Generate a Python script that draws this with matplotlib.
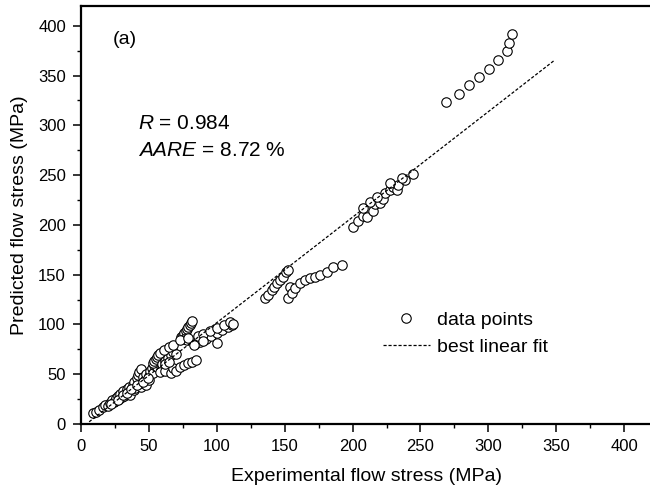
import matplotlib
matplotlib.use("Agg")
import matplotlib.pyplot as plt
from matplotlib.ticker import MultipleLocator

plt.rcParams['font.family'] = ['Liberation Sans', 'DejaVu Sans']
plt.rcParams['mathtext.fontset'] = 'custom'
plt.rcParams['mathtext.rm'] = 'Liberation Sans'
plt.rcParams['mathtext.it'] = 'Liberation Sans:italic'

# Dados (tensão experimental x prevista, MPa)
# ramo de baixa tensão (denso)
low_exp = [9, 11, 13, 16, 18, 20, 21, 23, 24, 25, 26, 27, 28, 29, 30, 31, 32, 33,
           34, 35, 36, 36, 38, 39, 39, 40, 41, 42, 43, 44, 44, 45, 46, 47, 48, 48,
           50, 50, 51, 52, 53, 54, 55, 56, 57, 58, 59, 60, 62, 63, 64, 66,
           22, 27, 31, 34, 37, 41, 46, 49]
low_pred = [11, 12, 14, 17, 19, 18, 21, 24, 22, 23, 26, 28, 25, 30, 27, 33, 28, 31,
            35, 37, 33, 29, 39, 42, 34, 36, 46, 49, 52, 55, 37, 41, 47, 44, 50, 39,
            48, 44, 53, 56, 51, 59, 62, 57, 64, 60, 66, 63, 68, 72, 65, 75,
            20, 24, 29, 31, 35, 39, 42, 46]

# colunas empilhadas por volta de 55-85 MPa
mid_exp = [53, 54, 55, 56, 57, 58, 60, 62, 64, 66, 68, 70,
           74, 75, 76, 77, 78, 79, 80, 81, 82, 76, 78]
mid_pred = [61, 63, 65, 67, 69, 71, 60, 63, 66, 69, 72, 70,
            87, 89, 91, 93, 95, 97, 99, 101, 103, 85, 84]

# ramo superior 60-112 MPa
upper_exp = [61, 65, 68, 73, 79, 84, 88, 92, 96, 100, 104, 108, 111,
             86, 90, 95, 100, 105, 110, 112, 83, 90, 100]
upper_pred = [74, 77, 79, 84, 86, 80, 82, 85, 88, 91, 94, 97, 99,
              88, 90, 93, 96, 99, 102, 100, 79, 83, 81]

# ramo inferior 58-85 MPa
hook_exp = [58, 62, 66, 68, 70, 73, 76, 79, 82, 85, 62, 65]
hook_pred = [52, 53, 51, 56, 53, 57, 59, 61, 62, 64, 60, 62]

# grupo ~150 MPa
g150a_exp = [135.5, 137.9, 140.4, 142.1, 144.1, 146.5, 149.0, 151.0, 152.7, 153.9]
g150a_pred = [126.2, 129.5, 134.5, 137.9, 141.3, 144.6, 147.9, 152.9, 154.6, 137.9]
g150b_exp = [152.7, 155.1, 157.6, 161.3, 164.9, 168.6, 172.3, 176.0, 180.9, 185.8, 192.0]
g150b_pred = [126.2, 131.2, 136.2, 141.3, 144.6, 146.3, 147.9, 149.6, 152.9, 157.9, 159.6]

# grupo ~220 MPa
g220_exp = [200.5, 204.2, 207.9, 210.8, 215.3, 216.5, 220.2, 222.6, 223.9, 227.5,
            230.0, 232.4, 233.7, 238.6, 244.7, 207.9, 212.8, 217.7, 227.5, 236.2]
g220_pred = [198.1, 204.1, 208.8, 207.5, 214.2, 220.9, 221.6, 225.6, 232.2, 234.9,
             238.3, 234.9, 240.0, 245.0, 250.7, 216.6, 223.2, 228.2, 241.7, 246.7]

# grupo ~300 MPa
g300_exp = [268.6, 278.4, 286.0, 293.4, 300.7, 306.9, 313.5, 315.4, 317.6]
g300_pred = [323.6, 332.0, 340.4, 348.7, 357.1, 366.1, 374.8, 383.2, 391.9]

# ajuste linear
fit_slope = 1.06
fit_intercept = -4.2
fit_range = [6, 348]

grupos = [(low_exp, low_pred), (mid_exp, mid_pred), (hook_exp, hook_pred),
          (upper_exp, upper_pred), (g150a_exp, g150a_pred), (g150b_exp, g150b_pred),
          (g220_exp, g220_pred), (g300_exp, g300_pred)]

fig = plt.figure(figsize=(6.5, 4.93), dpi=100)
ax = fig.add_axes([0.1246, 0.14, 0.8775, 0.848])

for i, (gx, gy) in enumerate(grupos):
    ax.plot(gx, gy, 'o', ms=6.8, mfc='white', mec='black', mew=0.8,
            label='data points' if i == 0 else None, zorder=3)

fit_y = [fit_slope * v + fit_intercept for v in fit_range]
ax.plot(fit_range, fit_y, color='black', lw=0.9, ls=(0, (2.5, 1.5)),
        label='best linear fit', zorder=4)

ax.set_xlim(0, 420)
ax.set_ylim(0, 420)
ax.xaxis.set_major_locator(MultipleLocator(50))
ax.xaxis.set_minor_locator(MultipleLocator(25))
ax.yaxis.set_major_locator(MultipleLocator(50))
ax.yaxis.set_minor_locator(MultipleLocator(25))
ax.tick_params(which='major', direction='out', length=5.8, width=1.1,
               labelsize=12, pad=5, top=False, right=False)
ax.tick_params(which='minor', direction='out', length=3, width=1.0,
               top=False, right=False)
for s in ax.spines.values():
    s.set_linewidth(1.6)

ax.set_xlabel('Experimental flow stress (MPa)', fontsize=14, labelpad=10)
ax.set_ylabel('Predicted flow stress (MPa)', fontsize=14, labelpad=7)

# anotações
fig.text(113 / 650, 1 - 40 / 493, '(a)', fontsize=14, va='center')
fig.text(138 / 650, 1 - 124 / 493, r'$R$ = 0.984', fontsize=15, va='center')
fig.text(138 / 650, 1 - 151 / 493, r'$AARE$ = 8.72 %', fontsize=15, va='center')

ax.legend(loc='upper left', bbox_to_anchor=(383 / 650, 1 - 311 / 493),
          bbox_transform=fig.transFigure, frameon=False, fontsize=14,
          handlelength=2.4, handletextpad=0.4, labelspacing=0.5,
          borderpad=0, borderaxespad=0)

fig.savefig('out.png', dpi=100)
